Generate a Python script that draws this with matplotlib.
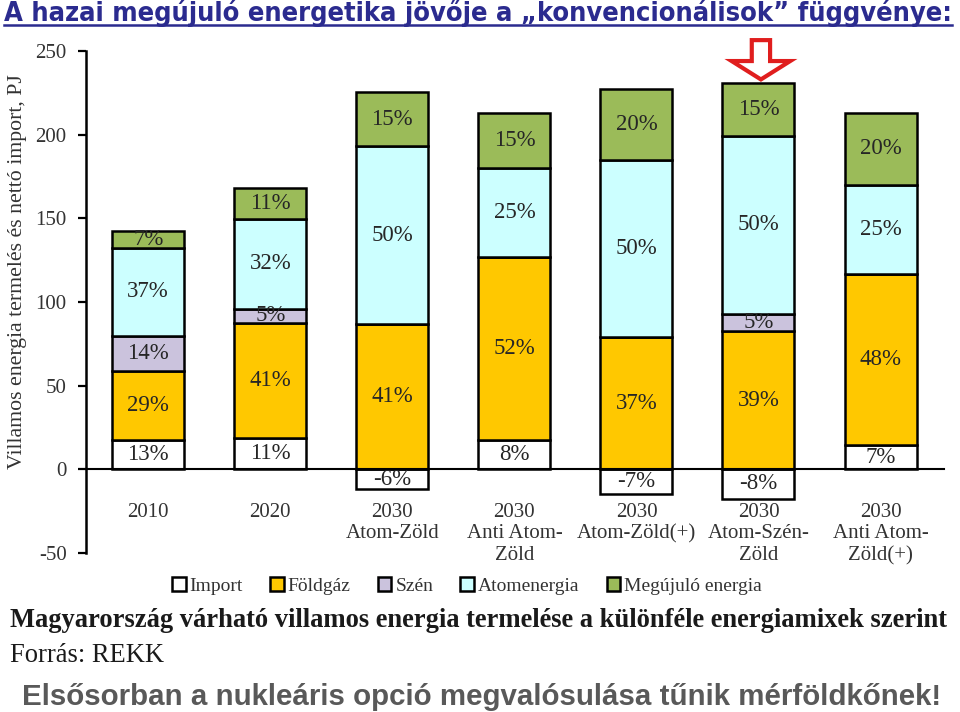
import matplotlib
matplotlib.use("Agg")
import matplotlib.pyplot as plt
from matplotlib import font_manager
from matplotlib.font_manager import FontProperties
from matplotlib.patches import Patch, FancyArrow
from matplotlib.lines import Line2D

# értékek PJ-ban, leolvasva az ábráról
categories = ["2010", "2020", "2030\nAtom-Zöld", "2030\nAnti Atom-\nZöld",
              "2030\nAtom-Zöld(+)", "2030\nAtom-Szén-\nZöld", "2030\nAnti Atom-\nZöld(+)"]
import_pj = [17.5, 18.5, -12, 17.5, -15, -17.5, 14.5]
foldgaz_pj = [41.5, 69, 87, 109.5, 79, 82.5, 102.5]
szen_pj = [20.5, 8.5, 0, 0, 0, 10.5, 0]
atom_pj = [53, 53.5, 106, 53, 106, 106.5, 53]
megujulo_pj = [10, 18.5, 32.5, 33, 42.5, 31.5, 43]

import_pct = ["13%", "11%", "-6%", "8%", "-7%", "-8%", "7%"]
foldgaz_pct = ["29%", "41%", "41%", "52%", "37%", "39%", "48%"]
szen_pct = ["14%", "5%", "", "", "", "5%", ""]
atom_pct = ["37%", "32%", "50%", "25%", "50%", "50%", "25%"]
megujulo_pct = ["7%", "11%", "15%", "15%", "20%", "15%", "20%"]

series = [
    ("Import", import_pj, import_pct, "#ffffff"),
    ("Földgáz", foldgaz_pj, foldgaz_pct, "#ffc800"),
    ("Szén", szen_pj, szen_pct, "#cbc3dd"),
    ("Atomenergia", atom_pj, atom_pct, "#ccffff"),
    ("Megújuló energia", megujulo_pj, megujulo_pct, "#9bbb59"),
]

plt.rcParams["font.family"] = ["Liberation Serif", "DejaVu Serif"]
plt.rcParams["axes.unicode_minus"] = False


def narrow_bold():
    # keskeny, félkövér sans betű a címhez, ha van ilyen telepítve
    for f in font_manager.fontManager.ttflist:
        name = f.name.lower()
        narrow = "narrow" in name or "condensed" in name or f.stretch in ("condensed", "semi-condensed")
        if narrow and f.weight in ("bold", 700) and "serif" not in name.replace("sans", ""):
            return FontProperties(fname=f.fname)
    return FontProperties(family=["Liberation Sans", "DejaVu Sans"], weight="bold")


fig = plt.figure(figsize=(9.6, 7.12), dpi=100)
ax = fig.add_axes([86 / 960, 1 - 553 / 712, 858 / 960, 502 / 712])

x = list(range(len(categories)))
bw = 0.59
bottom = [0.0] * len(x)
for name, vals, pcts, color in series:
    if name == "Import":
        bars = ax.bar(x, vals, bw, bottom=0, color=color, edgecolor="black", linewidth=1.8, zorder=2)
    else:
        bars = ax.bar(x, vals, bw, bottom=bottom, color=color, edgecolor="black", linewidth=1.8, zorder=2)
    for b, p in zip(bars, pcts):
        if not p:
            continue
        cy = b.get_y() + b.get_height() / 2
        t = ax.text(b.get_x() + b.get_width() / 2, cy, p, ha="center", va="center",
                    fontsize=16.5, color="#262626", zorder=3)
        t.set_clip_path(b)
    if name == "Import":
        bottom = [max(v, 0) for v in vals]
    else:
        bottom = [b0 + v for b0, v in zip(bottom, vals)]

ax.set_xlim(-0.51, 6.52)
ax.set_ylim(-50, 250)
ax.set_yticks([-50, 0, 50, 100, 150, 200, 250])
ax.set_xticks(x)
ax.set_xticklabels(categories, linespacing=1.0)
ax.spines["top"].set_visible(False)
ax.spines["right"].set_visible(False)
ax.spines["bottom"].set_position(("data", 0))
ax.spines["bottom"].set_linewidth(1.5)
ax.spines["left"].set_linewidth(1.8)
ax.tick_params(axis="x", length=0, pad=24, labelsize=15, labelcolor="#333333")
ax.tick_params(axis="y", direction="out", length=6, width=1.6, labelsize=15,
               labelcolor="#333333", pad=8)

# piros nyíl a kiemelt forgatókönyv fölött
arrow = FancyArrow(5.02, 256.5, 0, -23.5, width=0.15, head_width=0.48, head_length=11,
                   length_includes_head=True, facecolor="white", edgecolor="#e01e1e",
                   linewidth=3, clip_on=False, zorder=4)
ax.add_patch(arrow)

handles = [Patch(facecolor=c, edgecolor="black", linewidth=1.8, label=n) for n, _, _, c in series]
fig.legend(handles=handles, loc="center", bbox_to_anchor=(467 / 960, 1 - 586 / 712), ncol=5,
           frameon=False, fontsize=14, handlelength=0.7, handleheight=0.7,
           handletextpad=0.2, columnspacing=1.4, labelcolor="#333333")

renderer = fig.canvas.get_renderer()


def fit(txt, target, vertical=False):
    ext = txt.get_window_extent(renderer)
    size = ext.height if vertical else ext.width
    txt.set_fontsize(txt.get_fontsize() * target / size)


ylab = fig.text(18 / 960, 1 - 272 / 712, "Villamos energia termelés és nettó import, PJ",
                rotation=90, ha="center", va="center", fontsize=14, color="#333333")
fit(ylab, 395, vertical=True)

title = fig.text(4 / 960, 1 - 21 / 712,
                 "A hazai megújuló energetika jövője a „konvencionálisok” függvénye:",
                 ha="left", va="baseline", color="#2b2b8f", fontproperties=narrow_bold())
title.set_fontsize(20)
fit(title, 951)
ext = title.get_window_extent(renderer)
fig.add_artist(Line2D([ext.x0 / 960, ext.x1 / 960], [1 - 24.5 / 712, 1 - 24.5 / 712],
                      color="#2b2b8f", linewidth=1.8))

caption = fig.text(10 / 960, 1 - 627 / 712,
                   "Magyarország várható villamos energia termelése a különféle energiamixek szerint",
                   ha="left", va="baseline", fontsize=17, fontweight="bold", color="#1a1a1a")
fit(caption, 940)

source = fig.text(10 / 960, 1 - 662 / 712, "Forrás: REKK", ha="left", va="baseline",
                  fontsize=caption.get_fontsize(), color="#1a1a1a")

bottom_line = fig.text(22 / 960, 1 - 705 / 712,
                       "Elsősorban a nukleáris opció megvalósulása tűnik mérföldkőnek!",
                       ha="left", va="baseline", fontsize=20, fontweight="bold", color="#595959",
                       family=["Liberation Sans", "DejaVu Sans"])
fit(bottom_line, 918)

fig.savefig("out.png", dpi=100)
